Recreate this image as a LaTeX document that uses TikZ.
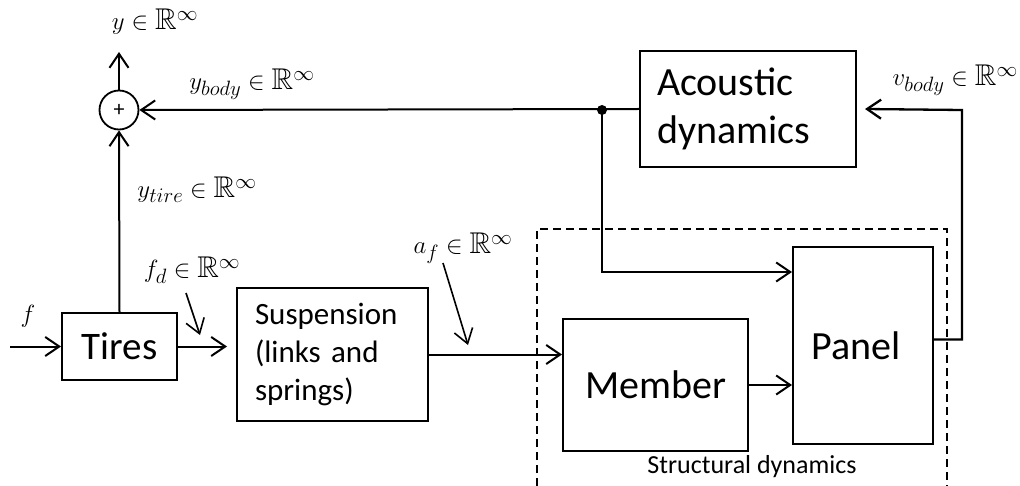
\documentclass[tikz,border=0pt]{standalone}
\usepackage{fontspec}
\setmainfont{Carlito}
\usepackage{amssymb}
\usetikzlibrary{arrows.meta}
\begin{document}
\begin{tikzpicture}[x=1pt,y=-1pt,
  blk/.style={draw,line width=2pt,inner sep=0pt},
  con/.style={line width=2pt},
  arr/.style={con,-{Straight Barb[length=14pt,width=19pt]}},
  lbl/.style={inner sep=0pt,font=\fontsize{30}{34}\selectfont},
]
\useasboundingbox (0,0) rectangle (1020,486);
% blocks
\node[draw,circle,line width=1.8pt,minimum size=39pt,inner sep=0pt,font=\fontsize{22}{24}\selectfont] (sum) at (119,110) {+};
\node[blk,minimum width=216pt,minimum height=116pt,text width=182pt,inner xsep=17pt,align=left,font=\fontsize{40}{48}\selectfont] (acoustic) at (748,109) {Acoustic\\dynamics};
\node[blk,minimum width=115pt,minimum height=67pt,font=\fontsize{39}{46}\selectfont] (tires) at (119.5,346.5) {Tires};
\node[blk,minimum width=191pt,minimum height=133pt,text width=155pt,inner xsep=18pt,align=left,font=\fontsize{31}{38}\selectfont] (susp) at (332.5,354.5) {Suspension\\(links and\\springs)};
\node[blk,minimum width=185pt,minimum height=132pt,font=\fontsize{40}{48}\selectfont] (member) at (655.5,385) {Member};
\node[blk,minimum width=140pt,minimum height=197pt,font=\fontsize{40}{48}\selectfont] (panel) at (863,345.5) {\hspace*{-14pt}Panel};
% dashed group
\coordinate (dbl) at (537,486);
\coordinate (dtr) at (947,229);
\coordinate (dbr) at (947,486);
\draw[line width=1.5pt,dash pattern=on 8pt off 5pt] (dbl) |- (dtr) -- (dbr);
\node[inner sep=0pt,font=\fontsize{26}{30}\selectfont] (struct) at (752,467) {Structural dynamics};
% coordinates
\coordinate (yout) at (119,52);
\coordinate (dot) at (602,110);
\coordinate (vc) at (962,110);
\coordinate (fin) at (10,346.5);
\coordinate (fd1) at (186,293);
\coordinate (fd2) at (200,335);
\coordinate (af1) at (443,263);
\coordinate (af2) at (468,345);
% connectors
\draw[arr] (tires.north) -- (sum.south);
\draw[arr] (sum.north) -- (yout);
\draw[arr] (acoustic.west) -- (sum.east);
\fill (dot) circle (5pt);
\draw[arr] (dot) |- ([yshift=-26pt]panel.north west);
\draw[arr] (member.east) -- (panel.west |- member.east);
\draw[arr,line width=2.3pt] ([yshift=6pt]panel.east) -| (vc) -- ([xshift=8pt]acoustic.east);
\draw[arr] (fin) -- (tires.west);
\draw[arr] (tires.east) -- ([xshift=-9pt]susp.west |- tires.east);
\draw[arr] (susp.east) -- (member.west |- susp.east);
\draw[arr,line width=1.6pt] (fd1) -- (fd2);
\draw[arr,line width=1.6pt] (af1) -- (af2);
% labels
\node[lbl] (ly) at (155,22) {$y \in \mathbb{R}^{\infty}$};
\node[lbl] (lybody) at (252,84) {$y_{body} \in \mathbb{R}^{\infty}$};
\node[lbl] (lytire) at (197,190) {$y_{tire} \in \mathbb{R}^{\infty}$};
\node[lbl] (lfd) at (192,270) {$f_{d} \in \mathbb{R}^{\infty}$};
\node[lbl] (lf) at (28,316) {$f$};
\node[lbl] (laf) at (463,248) {$a_{f} \in \mathbb{R}^{\infty}$};
\node[lbl,anchor=east] (lvbody) at (1018,80) {$v_{body} \in \mathbb{R}^{\infty}$};
\end{tikzpicture}
\end{document}
